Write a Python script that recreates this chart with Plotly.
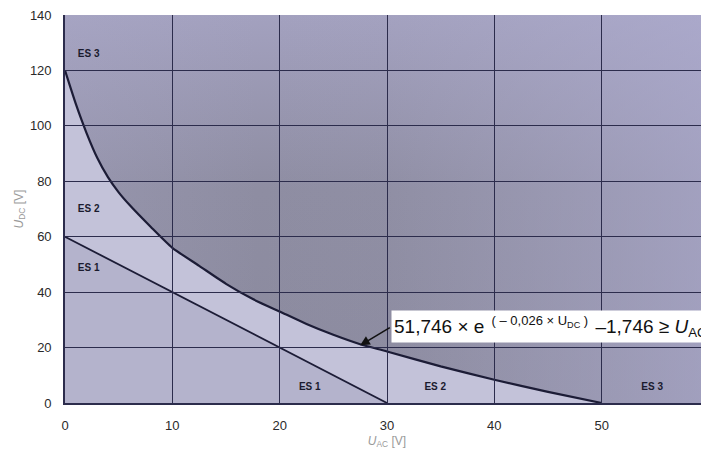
import plotly.graph_objects as go

# ---- data ----
x_range = [0, 60]
y_range = [0, 140]
x_ticks = [0, 10, 20, 30, 40, 50, 60]
y_ticks = [0, 20, 40, 60, 80, 100, 120, 140]

# ES2/ES3 boundary curve  (U_AC, U_DC)
u_ac_curve = [0, 1, 2, 3, 4, 5, 6, 8, 10, 12.5, 15, 17.5, 20, 22.5, 25, 27.5, 30, 35, 40, 45, 50]
u_dc_curve = [120, 108, 97.5, 88.5, 81.5, 76, 71.5, 63.5, 56, 49.5, 43, 37.5, 33, 28.5, 24.6, 21.2, 18.6, 13.2, 8.4, 4, 0]

# ES1/ES2 boundary line
u_ac_line = [0, 30]
u_dc_line = [60, 0]

# region labels
label_text = ["ES 3", "ES 2", "ES 1", "ES 1", "ES 2", "ES 3"]
label_x = [2.2, 2.2, 2.2, 22.8, 34.5, 54.7]
label_y = [125.6, 70, 48.7, 5.6, 5.6, 5.6]

# formula callout: arrow head on curve, box position
arrow_head = (27.5, 20.8)
box_anchor = (30.4, 27.5)
formula = ("51,746 × e<sup><span style='font-size:13px'>  ( – 0,026 × U<sub>DC</sub> )  </span></sup>"
           "–1,746 ≥ <i>U</i><sub>AC</sub>")

fig = go.Figure()

# ES3 region (above curve): base vertical shading + lighter overlay toward the right
es3_x = u_ac_curve + [x_range[1], x_range[1], x_range[0]]
es3_y = u_dc_curve + [y_range[0], y_range[1], y_range[1]]
fig.add_trace(go.Scatter(
    x=es3_x, y=es3_y, mode="none", fill="toself",
    fillgradient=dict(type="vertical", start=0, stop=140,
                      colorscale=[[0, "#8b8a9e"], [0.55, "#8e8da2"], [1, "#a3a1bf"]]),
    hoverinfo="skip"))
fig.add_trace(go.Scatter(
    x=es3_x, y=es3_y, mode="none", fill="toself",
    fillgradient=dict(type="horizontal", start=0, stop=60,
                      colorscale=[[0, "rgba(175,173,205,0.25)"], [0.3, "rgba(175,173,205,0)"],
                                  [0.5, "rgba(175,173,205,0.05)"], [1, "rgba(175,173,210,0.62)"]]),
    hoverinfo="skip"))

# ES2 region (between line and curve)
es2_x = u_ac_curve + u_ac_line[::-1]
es2_y = u_dc_curve + u_dc_line[::-1]
fig.add_trace(go.Scatter(x=es2_x, y=es2_y, mode="none", fill="toself",
                         fillcolor="#c3c2d9", hoverinfo="skip"))

# ES1 region (below line)
es1_x = [x_range[0]] + u_ac_line
es1_y = [y_range[0]] + u_dc_line
fig.add_trace(go.Scatter(x=es1_x, y=es1_y, mode="none", fill="toself",
                         fillcolor="#b4b3cc", hoverinfo="skip"))

# boundary lines
fig.add_trace(go.Scatter(x=u_ac_curve, y=u_dc_curve, mode="lines",
                         line=dict(color="#1c1c36", width=2.2, shape="spline", smoothing=0.6),
                         hoverinfo="skip"))
fig.add_trace(go.Scatter(x=u_ac_line, y=u_dc_line, mode="lines",
                         line=dict(color="#1c1c36", width=1.8), hoverinfo="skip"))

# region labels
fig.add_trace(go.Scatter(x=label_x, y=label_y, mode="text",
                         text=["<b>%s</b>" % t for t in label_text],
                         textfont=dict(family="Liberation Sans, Arial", size=10, color="#1a1a2e"),
                         hoverinfo="skip"))

# formula box + arrow
fig.add_annotation(x=box_anchor[0], y=box_anchor[1], xref="x", yref="y",
                   text=formula, showarrow=False, xanchor="left", yanchor="middle",
                   bgcolor="white", borderpad=2,
                   font=dict(family="Liberation Sans, Arial", size=19, color="#111"))
fig.add_annotation(x=arrow_head[0], y=arrow_head[1], xref="x", yref="y",
                   ax=box_anchor[0], ay=box_anchor[1], axref="x", ayref="y",
                   text="", showarrow=True, arrowhead=2, arrowsize=1.2, arrowwidth=1.6,
                   arrowcolor="#111")

# page body has an 8px offset; margins compensate so the plot lands where the reference has it
M_L, M_R, M_T, M_B = 57, 8, 7, 70
plot_h = 465 - M_T - M_B
plot_w = 709 - M_L - M_R

fig.update_xaxes(range=x_range, tickvals=x_ticks, showgrid=False, zeroline=False, automargin=False,
                 ticks="inside", ticklen=plot_h, tickwidth=1.4, tickcolor="#2c2c4c",
                 layer="above traces", showline=True, linecolor="#2c2c4c", linewidth=1.6,
                 ticklabelstandoff=10, ticklabeloverflow="allow",
                 tickfont=dict(family="Liberation Sans, Arial", size=13, color="#2a2a2a"),
                 title=dict(text="<i>U</i><sub>AC</sub> [V]", standoff=4,
                            font=dict(family="Liberation Sans, Arial", size=12, color="#9a9a9a")))
fig.update_yaxes(range=y_range, tickvals=y_ticks, showgrid=False, zeroline=False, automargin=False,
                 ticks="inside", ticklen=plot_w, tickwidth=1.4, tickcolor="#2c2c4c",
                 layer="above traces", showline=True, linecolor="#2c2c4c", linewidth=1.6,
                 ticklabelstandoff=9, ticklabeloverflow="allow",
                 tickfont=dict(family="Liberation Sans, Arial", size=13, color="#2a2a2a"),
                 title=dict(text="<i>U</i><sub>DC</sub> [V]", standoff=4,
                            font=dict(family="Liberation Sans, Arial", size=12, color="#9a9a9a")))

fig.update_layout(width=709, height=465, margin=dict(l=M_L, r=M_R, t=M_T, b=M_B),
                  paper_bgcolor="white", plot_bgcolor="#b4b3cc", showlegend=False)

fig.write_html("out.html")
